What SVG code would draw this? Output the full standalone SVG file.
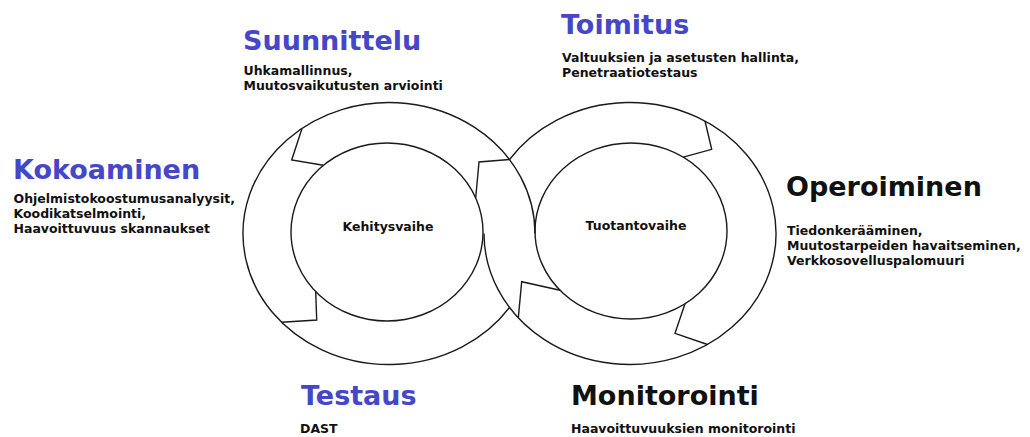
<svg xmlns="http://www.w3.org/2000/svg" width="1030" height="437" viewBox="0 0 1030 437">
<style>
.ln{fill:none;stroke:#1a1a1a;stroke-width:1.4;stroke-linejoin:miter}
.t{font-family:"DejaVu Sans","Liberation Sans",sans-serif;font-weight:bold}
.h{font-size:27px}
.blue{fill:#4646C8}
.blk{fill:#111}
.s{font-size:12.5px;fill:#111}
.c{font-size:12.5px;fill:#111;text-anchor:middle}
</style>
<rect width="1030" height="437" fill="#fff"/>
<g id="loop">
<path class="ln" d="M535 233.5 A146 131 0 1 0 509.5 307.5"/>
<path class="ln" d="M484 233.5 A146 131 0 1 0 509.5 159.5"/>
<ellipse class="ln" cx="387" cy="232" rx="96" ry="89"/>
<ellipse class="ln" cx="631" cy="231" rx="96" ry="88"/>
<polyline class="ln" points="302,128.5 291.7,160 323.3,165.3"/>
<polyline class="ln" points="315.7,291.6 316.7,320 281.7,322.3"/>
<polyline class="ln" points="509.5,159.5 479,162 475.7,198"/>
<polyline class="ln" points="560,290.2 521.7,281.7 518.3,317.9"/>
<polyline class="ln" points="705,121 711.7,149.3 683.3,157.2"/>
<polyline class="ln" points="685,303.8 675,333.3 707.5,344.5"/>
</g>
<g id="kehitysvaihe"><text class="t c" x="388" y="231">Kehitysvaihe</text></g>
<g id="tuotantovaihe"><text class="t c" x="636" y="230">Tuotantovaihe</text></g>
<g id="suunnittelu">
<text class="t h blue" x="243" y="49.5">Suunnittelu</text>
<text class="t s" x="243.5" y="74.5">Uhkamallinnus,</text>
<text class="t s" x="243.5" y="89.5">Muutosvaikutusten arviointi</text>
</g>
<g id="toimitus">
<text class="t h blue" x="561" y="33.5">Toimitus</text>
<text class="t s" x="562" y="62">Valtuuksien ja asetusten hallinta,</text>
<text class="t s" x="562" y="77">Penetraatiotestaus</text>
</g>
<g id="kokoaminen">
<text class="t h blue" x="13" y="178.5">Kokoaminen</text>
<text class="t s" x="13.5" y="203">Ohjelmistokoostumusanalyysit,</text>
<text class="t s" x="13.5" y="218">Koodikatselmointi,</text>
<text class="t s" x="13.5" y="233">Haavoittuvuus skannaukset</text>
</g>
<g id="operoiminen">
<text class="t h blk" x="786" y="196">Operoiminen</text>
<text class="t s" x="787" y="234.5">Tiedonkerääminen,</text>
<text class="t s" x="787" y="249.5">Muutostarpeiden havaitseminen,</text>
<text class="t s" x="787" y="264.5">Verkkosovelluspalomuuri</text>
</g>
<g id="testaus">
<text class="t h blue" x="301" y="405">Testaus</text>
<text class="t s" x="300" y="432.5">DAST</text>
</g>
<g id="monitorointi">
<text class="t h blk" x="571" y="405">Monitorointi</text>
<text class="t s" x="571" y="432.5">Haavoittuvuuksien monitorointi</text>
</g>
</svg>
